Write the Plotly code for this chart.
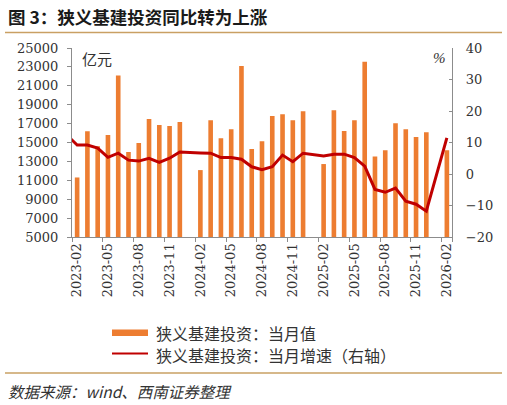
import plotly.graph_objects as go

# === DATOS ===
months = [
    "2023-01", "2023-02", "2023-03", "2023-04", "2023-05", "2023-06", "2023-07",
    "2023-08", "2023-09", "2023-10", "2023-11", "2023-12",
    "2024-01", "2024-02", "2024-03", "2024-04", "2024-05", "2024-06", "2024-07",
    "2024-08", "2024-09", "2024-10", "2024-11", "2024-12",
    "2025-01", "2025-02", "2025-03", "2025-04", "2025-05", "2025-06", "2025-07",
    "2025-08", "2025-09", "2025-10", "2025-11", "2025-12",
    "2026-01", "2026-02",
]

# 当月值 (亿元), enero sin dato
monthly_value = [
    None, 11300, 16200, 14600, 15800, 22100, 14000,
    14950, 17500, 16850, 16750, 17180,
    None, 12080, 17350, 15440, 16400, 23090, 14310,
    15120, 17810, 17990, 17350, 18310,
    None, 12720, 18420, 16220, 17350, 23550, 13530,
    14170, 17040, 16400, 15580, 16080,
    None, 14170,
]

# 当月增速 (%), eje derecho
monthly_growth = [
    12.4, 9.2, 9.2, 8.2, 5.3, 6.6, 4.4,
    4.1, 5.0, 3.7, 5.0, 7.0,
    None, 6.7, 6.6, 5.2, 5.2, 4.7, 2.3,
    1.4, 2.3, 6.0, 3.9, 6.6,
    None, 5.7, 6.3, 6.3, 5.2, 2.5, -4.9,
    -5.8, -4.5, -8.6, -9.6, -11.8,
    None, 11.5,
]

tick_months = [
    "2023-02", "2023-05", "2023-08", "2023-11",
    "2024-02", "2024-05", "2024-08", "2024-11",
    "2025-02", "2025-05", "2025-08", "2025-11",
    "2026-02",
]

title_text = "图 3：狭义基建投资同比转为上涨"
legend_bar = "狭义基建投资：当月值"
legend_line = "狭义基建投资：当月增速（右轴）"
source_text = "数据来源：wind、西南证券整理"

BAR_COLOR = "#ED7D31"
LINE_COLOR = "#C00000"
AXIS_COLOR = "#8C8C8C"
RULE_COLOR = "#C9A063"
CJK = "Noto Sans CJK SC"
NUM = "DejaVu Serif"

# === MARGENES / AYUDAS PIXEL -> PAPER ===
W, H = 507, 405
L, R, T, B = 72, 55, 48, 168
PW, PH = W - L - R, H - T - B


def px_x(p):
    return (p - L) / PW


def px_y(p):
    return (H - B - p) / PH


fig = go.Figure()
fig.add_trace(go.Bar(x=months, y=monthly_value, name=legend_bar,
                     marker=dict(color=BAR_COLOR, line=dict(width=0)),
                     width=0.45, yaxis="y"))
fig.add_trace(go.Scatter(x=months, y=monthly_growth, name=legend_line,
                         mode="lines", connectgaps=True,
                         line=dict(color=LINE_COLOR, width=3), yaxis="y2"))

fig.update_layout(
    width=W, height=H,
    margin=dict(l=L, r=R, t=T, b=B),
    plot_bgcolor="white", paper_bgcolor="white",
    showlegend=False,
    xaxis=dict(
        type="category", categoryorder="array", categoryarray=months,
        range=[0.5, len(months) - 0.5],
        tickmode="array", tickvals=tick_months, ticktext=tick_months,
        tickson="boundaries", ticks="outside", ticklen=4,
        tickcolor=AXIS_COLOR, tickangle=-90,
        showline=True, linecolor=AXIS_COLOR, linewidth=1.3,
        showgrid=False, zeroline=False,
        tickfont=dict(family=NUM, size=13, color="#333333"),
    ),
    yaxis=dict(
        range=[5000, 25000], tickmode="linear", tick0=5000, dtick=2000,
        tickformat="d", ticks="outside", ticklen=4, tickcolor=AXIS_COLOR,
        showline=True, linecolor=AXIS_COLOR, linewidth=1.3,
        showgrid=False, zeroline=False, ticklabelstandoff=6,
        tickfont=dict(family=NUM, size=13, color="#333333"),
    ),
    yaxis2=dict(
        range=[-20, 40], tickmode="linear", tick0=-20, dtick=10,
        overlaying="y", side="right",
        ticks="inside", ticklen=3, tickcolor=AXIS_COLOR,
        showline=True, linecolor=AXIS_COLOR, linewidth=1.3,
        showgrid=False, zeroline=False, ticklabelstandoff=10,
        tickfont=dict(family=NUM, size=13, color="#333333"),
    ),
)

# === TITULO, UNIDADES, LEYENDA, FUENTE ===
ann = [
    dict(text="<b>" + title_text + "</b>", x=px_x(6), y=px_y(16),
         xanchor="left", yanchor="middle",
         font=dict(family=CJK, size=17.5, color="#1a1a1a")),
    dict(text="亿元", x=px_x(80), y=px_y(58), xanchor="left", yanchor="middle",
         font=dict(family=CJK, size=15, color="#333333")),
    dict(text="<i>%</i>", x=px_x(448), y=px_y(58), xanchor="right", yanchor="middle",
         font=dict(family="Liberation Serif", size=15, color="#333333")),
    dict(text=legend_bar, x=px_x(154), y=px_y(333), xanchor="left", yanchor="middle",
         font=dict(family=CJK, size=16, color="#333333")),
    dict(text=legend_line, x=px_x(154), y=px_y(355), xanchor="left", yanchor="middle",
         font=dict(family=CJK, size=16, color="#333333")),
    dict(text="<i>" + source_text + "</i>", x=px_x(6), y=px_y(391),
         xanchor="left", yanchor="middle",
         font=dict(family=CJK, size=15.5, color="#333333")),
]
for a in ann:
    fig.add_annotation(xref="paper", yref="paper", showarrow=False, **a)

shapes = [
    dict(type="line", x0=px_x(5), x1=px_x(502), y0=px_y(32.5), y1=px_y(32.5),
         line=dict(color=RULE_COLOR, width=1.5)),
    dict(type="line", x0=px_x(5), x1=px_x(502), y0=px_y(373), y1=px_y(373),
         line=dict(color=RULE_COLOR, width=1.5)),
    dict(type="rect", x0=px_x(112), x1=px_x(148), y0=px_y(336), y1=px_y(329.5),
         fillcolor=BAR_COLOR, line=dict(width=0)),
    dict(type="line", x0=px_x(112), x1=px_x(148), y0=px_y(353.5), y1=px_y(353.5),
         line=dict(color=LINE_COLOR, width=2.2)),
]
for s in shapes:
    fig.add_shape(xref="paper", yref="paper", **s)

# quitar el margen por defecto del body para que la figura ocupe toda la ventana
fig.write_html("out.html", config={"displayModeBar": False},
               post_script="document.body.style.margin='0';")
